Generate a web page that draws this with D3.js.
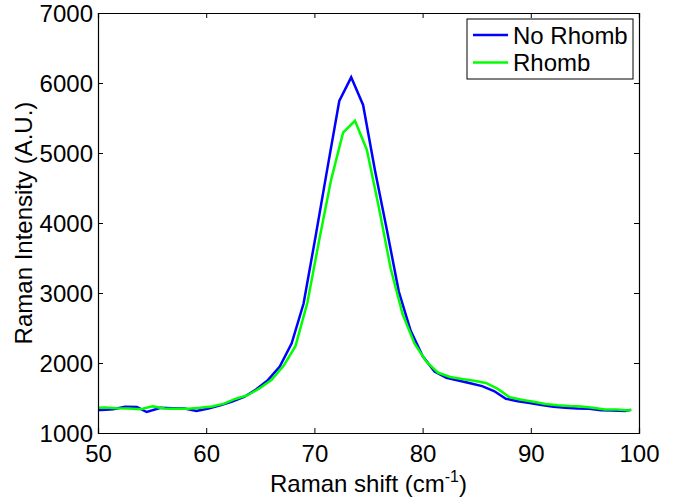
<!DOCTYPE html>
<html><head><meta charset="utf-8">
<script src="https://cdn.jsdelivr.net/npm/d3@7"></script>
<style>body{margin:0;background:#fff;} text{font-family:"Liberation Sans",Arial,sans-serif;fill:#000;}</style>
</head><body>
<svg id="c" width="679" height="499"></svg>
<script>
const xTicks = [50, 60, 70, 80, 90, 100];
const yTicks = [1000, 2000, 3000, 4000, 5000, 6000, 7000];
const seriesNames = ["No Rhomb", "Rhomb"];
const noRhombX = [49.2,50.3,51.4,52.5,53.6,54.5,55.8,56.9,58.0,59.1,60.2,61.3,62.4,63.5,64.6,65.7,66.8,67.9,69.0,70.1,71.2,72.3,73.4,74.5,75.6,76.7,77.8,78.9,80.0,81.1,82.2,83.3,84.4,85.5,86.6,87.7,88.8,89.9,91.0,92.1,93.2,94.3,95.4,96.5,97.6,98.7,99.2];
const noRhombY = [1330,1330,1340,1375,1370,1300,1360,1355,1350,1315,1350,1395,1450,1515,1620,1755,1950,2280,2850,3800,4780,5743,6081,5686,4750,3900,3020,2460,2100,1880,1790,1750,1710,1670,1600,1490,1455,1430,1400,1375,1360,1350,1345,1325,1320,1315,1330];
const rhombX = [49.55,50.65,51.75,52.85,53.95,55.05,56.15,57.25,58.35,59.45,60.55,61.65,62.75,63.85,64.95,66.05,67.15,68.25,69.35,70.45,71.55,72.65,73.75,74.85,75.95,77.05,78.15,79.25,80.35,81.45,82.55,83.65,84.75,85.85,86.95,88.05,89.15,90.25,91.35,92.45,93.55,94.65,95.75,96.85,97.95,99.05,99.3];
const rhombY = [1360,1365,1355,1350,1340,1380,1350,1345,1345,1360,1380,1420,1490,1540,1640,1760,1960,2240,2860,3760,4620,5290,5460,5043,4230,3350,2700,2280,2020,1860,1800,1770,1745,1715,1630,1510,1475,1445,1415,1395,1385,1380,1360,1335,1335,1320,1338];
const colors = ["#0000ff", "#00ff00"];

const L = 98, R = 639, T = 13, B = 433;
const svg = d3.select("#c");
const x = d3.scaleLinear().domain([50, 100]).range([L, R]);
const y = d3.scaleLinear().domain([1000, 7000]).range([B, T]);

svg.append("defs").append("clipPath").attr("id", "clip")
  .append("rect").attr("x", L).attr("y", T).attr("width", R - L).attr("height", B - T);

const line = d3.line().x(d => x(d[0])).y(d => y(d[1]));
const series = [
  noRhombX.map((v, i) => [v, noRhombY[i]]),
  rhombX.map((v, i) => [v, rhombY[i]])
];
series.forEach((s, i) => {
  svg.append("path").datum(s).attr("d", line).attr("fill", "none")
    .attr("stroke", colors[i]).attr("stroke-width", 2.5).attr("stroke-linejoin", "miter")
    .attr("clip-path", "url(#clip)");
});

const fs = 24;
// axes
const xb = svg.append("g").attr("transform", `translate(0,${B})`)
  .call(d3.axisBottom(x).tickValues(xTicks).tickSize(-5).tickPadding(12).tickFormat(d3.format("d")));
const xt = svg.append("g").attr("transform", `translate(0,${T})`)
  .call(d3.axisTop(x).tickValues(xTicks).tickSize(-5).tickFormat(""));
const yl = svg.append("g").attr("transform", `translate(${L},0)`)
  .call(d3.axisLeft(y).tickValues(yTicks).tickSize(-5).tickPadding(5).tickFormat(d3.format("d")));
const yr = svg.append("g").attr("transform", `translate(${R},0)`)
  .call(d3.axisRight(y).tickValues(yTicks).tickSize(-5).tickFormat(""));
[xb, xt, yl, yr].forEach(g => {
  g.select(".domain").attr("stroke", "#000").attr("stroke-width", 1.2);
  g.selectAll(".tick line").attr("stroke", "#000").attr("stroke-width", 1);
  g.selectAll("text").attr("font-size", fs).attr("font-family", "Liberation Sans, Arial, sans-serif").attr("fill", "#000");
});
xb.selectAll(".tick text").attr("dy", "0.71em");
yl.selectAll(".tick text").attr("dy", "0.36em");

// x label
const xl = svg.append("text").attr("x", (L + R) / 2).attr("y", 492).attr("text-anchor", "middle").attr("font-size", fs);
xl.append("tspan").text("Raman shift (cm");
xl.append("tspan").attr("font-size", 16).attr("dy", -10).text("-1");
xl.append("tspan").attr("dy", 10).text(")");

// y label
svg.append("text").attr("transform", `translate(32,${(T + B) / 2}) rotate(-90)`)
  .attr("text-anchor", "middle").attr("font-size", fs).text("Raman Intensity (A.U.)");

// legend
const lg = svg.append("g");
lg.append("rect").attr("x", 467).attr("y", 19).attr("width", 166).attr("height", 60)
  .attr("fill", "#fff").attr("stroke", "#000").attr("stroke-width", 1);
seriesNames.forEach((n, i) => {
  const yy = 35 + i * 27.5;
  lg.append("line").attr("x1", 473).attr("x2", 508).attr("y1", yy).attr("y2", yy)
    .attr("stroke", colors[i]).attr("stroke-width", 2.5);
  lg.append("text").attr("x", 513).attr("y", yy).attr("dy", "0.36em").attr("font-size", fs).text(n);
});
</script>
</body></html>
